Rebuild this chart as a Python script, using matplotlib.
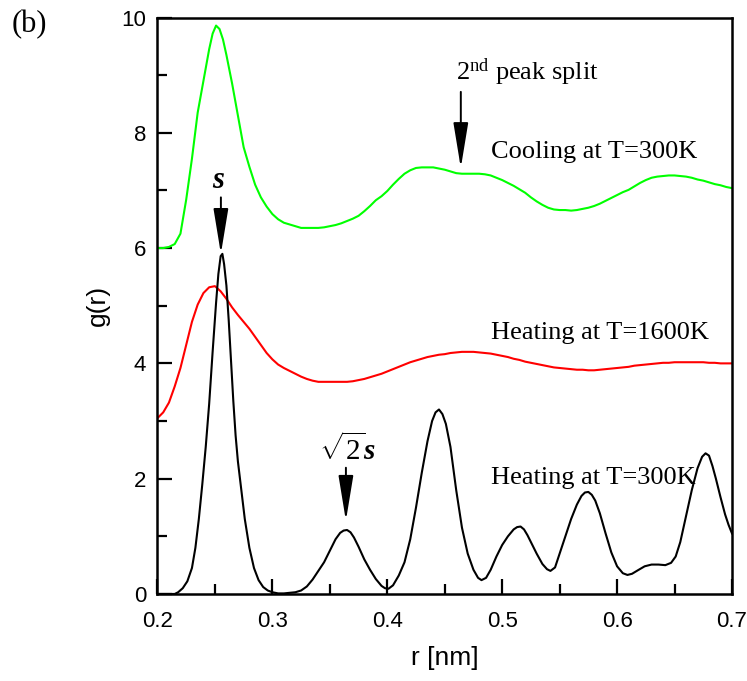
import numpy as np
import matplotlib
matplotlib.use("Agg")
import matplotlib.pyplot as plt
from matplotlib.patches import ArrowStyle

plt.rcParams['font.family'] = ['Liberation Sans', 'DejaVu Sans']
plt.rcParams['mathtext.fontset'] = 'custom'
plt.rcParams['mathtext.rm'] = 'Liberation Serif'
plt.rcParams['mathtext.it'] = 'Liberation Serif:italic'
plt.rcParams['mathtext.bf'] = 'Liberation Serif:bold:italic'

# radial distance grid [nm] for the two smoother curves
r = [0.200, 0.205, 0.210, 0.215, 0.220, 0.225, 0.230, 0.235, 0.240, 0.245,
     0.250, 0.255, 0.260, 0.265, 0.270, 0.275, 0.280, 0.285, 0.290, 0.295,
     0.300, 0.305, 0.310, 0.315, 0.320, 0.325, 0.330, 0.335, 0.340, 0.345,
     0.350, 0.355, 0.360, 0.365, 0.370, 0.375, 0.380, 0.385, 0.390, 0.395,
     0.400, 0.405, 0.410, 0.415, 0.420, 0.425, 0.430, 0.435, 0.440, 0.445,
     0.450, 0.455, 0.460, 0.465, 0.470, 0.475, 0.480, 0.485, 0.490, 0.495,
     0.500, 0.505, 0.510, 0.515, 0.520, 0.525, 0.530, 0.535, 0.540, 0.545,
     0.550, 0.555, 0.560, 0.565, 0.570, 0.575, 0.580, 0.585, 0.590, 0.595,
     0.600, 0.605, 0.610, 0.615, 0.620, 0.625, 0.630, 0.635, 0.640, 0.645,
     0.650, 0.655, 0.660, 0.665, 0.670, 0.675, 0.680, 0.685, 0.690, 0.695,
     0.700]

# g(r), heating at T=1600K
g_heat_1600 = [3.05, 3.15, 3.32, 3.60, 3.92, 4.32, 4.72, 5.02, 5.22, 5.32,
               5.34, 5.25, 5.12, 4.97, 4.84, 4.72, 4.60, 4.46, 4.32, 4.18,
               4.07, 3.98, 3.92, 3.87, 3.82, 3.77, 3.73, 3.70, 3.68, 3.68,
               3.68, 3.68, 3.68, 3.68, 3.69, 3.71, 3.73, 3.76, 3.79, 3.82,
               3.86, 3.90, 3.94, 3.98, 4.02, 4.05, 4.08, 4.11, 4.13, 4.15,
               4.16, 4.18, 4.19, 4.20, 4.20, 4.20, 4.19, 4.18, 4.17, 4.15,
               4.13, 4.11, 4.08, 4.06, 4.03, 4.01, 3.99, 3.97, 3.95, 3.93,
               3.92, 3.91, 3.90, 3.89, 3.89, 3.88, 3.88, 3.89, 3.90, 3.91,
               3.92, 3.93, 3.94, 3.96, 3.97, 3.98, 3.99, 4.00, 4.01, 4.01,
               4.02, 4.02, 4.02, 4.02, 4.02, 4.02, 4.01, 4.01, 4.00, 4.00,
               4.00]

# g(r), cooling at T=300K
r_cool = [0.200, 0.205, 0.210, 0.215, 0.220, 0.225, 0.230, 0.235, 0.240, 0.245,
          0.248, 0.251, 0.254, 0.257, 0.260, 0.265, 0.270, 0.275, 0.280, 0.285,
          0.290, 0.295, 0.300, 0.305, 0.310, 0.315, 0.320, 0.325, 0.330, 0.335,
          0.340, 0.345, 0.350, 0.355, 0.360, 0.365, 0.370, 0.375, 0.380, 0.385,
          0.390, 0.395, 0.400, 0.405, 0.410, 0.415, 0.420, 0.425, 0.430, 0.435,
          0.440, 0.445, 0.450, 0.455, 0.460, 0.465, 0.470, 0.475, 0.480, 0.485,
          0.490, 0.495, 0.500, 0.505, 0.510, 0.515, 0.520, 0.525, 0.530, 0.535,
          0.540, 0.545, 0.550, 0.555, 0.560, 0.565, 0.570, 0.575, 0.580, 0.585,
          0.590, 0.595, 0.600, 0.605, 0.610, 0.615, 0.620, 0.625, 0.630, 0.635,
          0.640, 0.645, 0.650, 0.655, 0.660, 0.665, 0.670, 0.675, 0.680, 0.685,
          0.690, 0.695, 0.700]
g_cool_300 = [6.00, 6.00, 6.02, 6.07, 6.25, 6.84, 7.55, 8.35, 8.90, 9.45,
              9.72, 9.86, 9.80, 9.62, 9.35, 8.85, 8.30, 7.75, 7.41, 7.10,
              6.88, 6.72, 6.59, 6.50, 6.44, 6.41, 6.38, 6.35, 6.35, 6.35,
              6.35, 6.36, 6.38, 6.40, 6.43, 6.47, 6.51, 6.56, 6.64, 6.73,
              6.83, 6.90, 6.99, 7.10, 7.20, 7.29, 7.35, 7.39, 7.40, 7.40,
              7.40, 7.38, 7.36, 7.33, 7.30, 7.29, 7.29, 7.29, 7.29, 7.28,
              7.26, 7.22, 7.18, 7.13, 7.08, 7.02, 6.96, 6.88, 6.81, 6.75,
              6.70, 6.67, 6.66, 6.66, 6.65, 6.66, 6.68, 6.70, 6.73, 6.77,
              6.82, 6.87, 6.92, 6.97, 7.01, 7.07, 7.13, 7.18, 7.22, 7.24,
              7.25, 7.26, 7.26, 7.25, 7.24, 7.22, 7.19, 7.17, 7.14, 7.11,
              7.09, 7.06, 7.04]

# g(r), heating at T=300K (sharper peaks, so sampled more densely)
r_heat_300 = [0.200, 0.210, 0.215, 0.218, 0.222, 0.226, 0.230, 0.233, 0.236, 0.239,
              0.242, 0.245, 0.248, 0.251, 0.253, 0.255, 0.2565, 0.258, 0.260, 0.262,
              0.264, 0.266, 0.268, 0.270, 0.273, 0.276, 0.280, 0.284, 0.288, 0.292,
              0.296, 0.300, 0.305, 0.310, 0.315, 0.320, 0.325, 0.330, 0.335, 0.340,
              0.345, 0.350, 0.355, 0.359, 0.362, 0.365, 0.368, 0.371, 0.375, 0.380,
              0.385, 0.390, 0.395, 0.398, 0.401, 0.405, 0.410, 0.415, 0.420, 0.425,
              0.430, 0.435, 0.439, 0.442, 0.445, 0.448, 0.451, 0.455, 0.460, 0.465,
              0.470, 0.475, 0.479, 0.482, 0.486, 0.490, 0.495, 0.500, 0.505, 0.510,
              0.513, 0.516, 0.519, 0.522, 0.525, 0.530, 0.535, 0.539, 0.542, 0.546,
              0.550, 0.555, 0.560, 0.565, 0.569, 0.572, 0.575, 0.578, 0.581, 0.585,
              0.590, 0.595, 0.600, 0.605, 0.609, 0.613, 0.618, 0.624, 0.630, 0.636,
              0.642, 0.647, 0.651, 0.655, 0.660, 0.665, 0.670, 0.674, 0.677, 0.680,
              0.683, 0.686, 0.690, 0.694, 0.697, 0.700]
g_heat_300 = [0.00, 0.00, 0.00, 0.03, 0.10, 0.22, 0.45, 0.80, 1.30, 1.90,
              2.55, 3.30, 4.20, 5.05, 5.55, 5.86, 5.90, 5.72, 5.35, 4.75,
              4.05, 3.35, 2.75, 2.30, 1.80, 1.30, 0.80, 0.45, 0.24, 0.12,
              0.06, 0.03, 0.01, 0.01, 0.02, 0.03, 0.06, 0.13, 0.25, 0.40,
              0.55, 0.75, 0.95, 1.06, 1.10, 1.11, 1.07, 0.98, 0.82, 0.60,
              0.42, 0.26, 0.14, 0.10, 0.09, 0.15, 0.32, 0.55, 0.95, 1.50,
              2.10, 2.65, 3.00, 3.15, 3.20, 3.12, 2.95, 2.55, 1.80, 1.15,
              0.70, 0.42, 0.28, 0.24, 0.28, 0.42, 0.65, 0.85, 1.00, 1.12,
              1.16, 1.17, 1.12, 1.02, 0.90, 0.70, 0.52, 0.43, 0.40, 0.46,
              0.70, 1.00, 1.30, 1.55, 1.70, 1.76, 1.77, 1.72, 1.62, 1.40,
              1.05, 0.72, 0.48, 0.36, 0.33, 0.35, 0.41, 0.48, 0.51, 0.51,
              0.50, 0.54, 0.65, 0.90, 1.35, 1.80, 2.18, 2.38, 2.44, 2.40,
              2.22, 2.00, 1.68, 1.38, 1.20, 1.05]

x_ticks = [0.2, 0.3, 0.4, 0.5, 0.6, 0.7]
y_ticks = [0, 2, 4, 6, 8, 10]

fig = plt.figure(figsize=(7.47, 6.81), dpi=100)
ax = fig.add_axes([0.2108, 0.1278, 0.7691, 0.8465])

ax.plot(r_cool, g_cool_300, color='#00ff00', lw=1.5)
ax.plot(r, g_heat_1600, color='#ff0000', lw=1.5)
ax.plot(r_heat_300, g_heat_300, color='black', lw=1.5)

ax.set_xlim(0.2, 0.7)
ax.set_ylim(0, 10)
ax.set_xticks(x_ticks)
ax.set_xticklabels([f'{v:.1f}' for v in x_ticks])
ax.set_yticks(y_ticks)
ax.set_yticklabels([str(v) for v in y_ticks])
ax.set_xticks(np.arange(0.25, 0.7, 0.1), minor=True)
ax.set_yticks(np.arange(1, 10, 2), minor=True)
ax.tick_params(which='both', direction='in', top=False, right=False,
               width=1.6, labelsize=16)
ax.tick_params(which='major', length=11)
ax.tick_params(which='minor', length=7)
ax.tick_params(axis='x', pad=12)
ax.tick_params(axis='y', pad=8)
for sp in ax.spines.values():
    sp.set_linewidth(1.8)

ax.set_xlabel('r [nm]', fontsize=19, labelpad=10)
ax.set_ylabel('g(r)', fontsize=19, labelpad=8)

serif = ['Liberation Serif', 'DejaVu Serif']
arrow = ArrowStyle('-|>', head_length=1.4, head_width=0.23)
aprops = dict(arrowstyle=arrow, mutation_scale=20, color='black', lw=1.4,
              shrinkA=0, shrinkB=0)

# nearest-neighbour peak
ax.annotate('', xy=(0.2552, 5.90), xytext=(0.2552, 6.88), arrowprops=aprops)
ax.text(0.2525, 7.18, 's', family=serif, fontsize=22, fontweight='bold',
        style='italic', ha='center', va='center')

# sqrt(2)*s peak
ax.annotate('', xy=(0.3640, 1.27), xytext=(0.3640, 2.19), arrowprops=aprops)
ax.text(0.3655, 2.50, r'$\sqrt{2}\mathbf{s}$', fontsize=21,
        ha='center', va='center')

# second peak splitting
ax.annotate('', xy=(0.4640, 7.39), xytext=(0.4640, 8.71), arrowprops=aprops)
ax.text(0.4595, 8.92, r'$\mathrm{2^{nd}}$ peak split', family=serif,
        fontsize=19, ha='left', va='baseline')

ax.text(0.490, 7.67, 'Cooling at T=300K', family=serif, fontsize=19,
        ha='left', va='center')
ax.text(0.490, 4.52, 'Heating at T=1600K', family=serif, fontsize=19,
        ha='left', va='center')
ax.text(0.490, 2.02, 'Heating at T=300K', family=serif, fontsize=19,
        ha='left', va='center')

fig.text(12 / 747, 1 - 25 / 681, '(b)', family=serif, fontsize=22,
         ha='left', va='center')

fig.savefig('out.png', dpi=100)
